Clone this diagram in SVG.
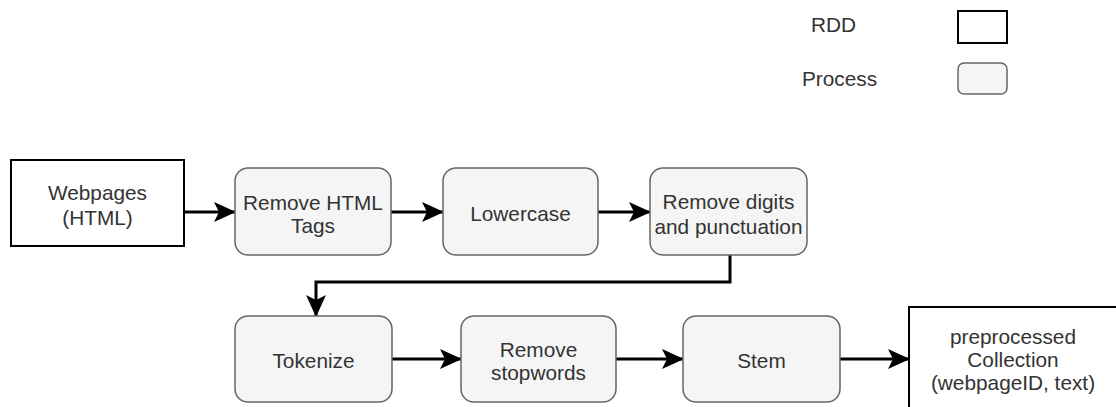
<svg xmlns="http://www.w3.org/2000/svg" width="1116" height="407" viewBox="0 0 1116 407">
  <style>
    .rdd { fill: #ffffff; stroke: #000000; stroke-width: 2; }
    .proc { fill: #f5f5f5; stroke: #666666; stroke-width: 1.5; }
    .lbl { font-family: "Liberation Sans", Arial, sans-serif; font-size: 20.8px; fill: #333333; text-anchor: middle; }
    .leg { font-family: "Liberation Sans", Arial, sans-serif; font-size: 20.8px; fill: #333333; }
    .edge { fill: none; stroke: #000000; stroke-width: 3; marker-end: url(#arrow); }
  </style>
  <defs>
    <marker id="arrow" markerUnits="userSpaceOnUse" markerWidth="22" markerHeight="20" refX="21" refY="10" orient="auto" viewBox="0 0 22 20">
      <path d="M0,0 L22,10 L0,20 L5,10 Z" fill="#000000"/>
    </marker>
  </defs>
  <rect width="1116" height="407" fill="#ffffff"/>

  <!-- legend -->
  <g id="legend">
    <text class="leg" x="811" y="32">RDD</text>
    <rect class="rdd" x="958" y="11" width="49" height="32"/>
    <text class="leg" x="802" y="86">Process</text>
    <rect class="proc" x="958" y="63" width="49" height="31" rx="6"/>
  </g>

  <!-- connectors -->
  <g id="connectors">
    <path class="edge" d="M184,212 H235"/>
    <path class="edge" d="M391,212 H443"/>
    <path class="edge" d="M598,212 H650"/>
    <path class="edge" d="M730,255 V282 H316 V316"/>
    <path class="edge" d="M392,359 H461"/>
    <path class="edge" d="M616,359 H683"/>
    <path class="edge" d="M840,359 H909"/>
  </g>

  <g id="webpages">
    <rect class="rdd" x="11" y="160" width="173" height="86"/>
    <text class="lbl" x="97.5" y="200">Webpages</text>
    <text class="lbl" x="97.5" y="225">(HTML)</text>
  </g>

  <g id="remove-html">
    <rect class="proc" x="235" y="168" width="156" height="87" rx="13"/>
    <text class="lbl" x="313" y="210">Remove HTML</text>
    <text class="lbl" x="313" y="233">Tags</text>
  </g>

  <g id="lowercase">
    <rect class="proc" x="443" y="168" width="155" height="87" rx="13"/>
    <text class="lbl" x="520.5" y="221">Lowercase</text>
  </g>

  <g id="remove-digits">
    <rect class="proc" x="650" y="168" width="157" height="87" rx="13"/>
    <text class="lbl" x="728.5" y="209">Remove digits</text>
    <text class="lbl" x="728.5" y="234">and punctuation</text>
  </g>

  <g id="tokenize">
    <rect class="proc" x="235" y="316" width="157" height="86" rx="13"/>
    <text class="lbl" x="313.5" y="368">Tokenize</text>
  </g>

  <g id="remove-stopwords">
    <rect class="proc" x="461" y="316" width="155" height="86" rx="13"/>
    <text class="lbl" x="538.5" y="357">Remove</text>
    <text class="lbl" x="538.5" y="380">stopwords</text>
  </g>

  <g id="stem">
    <rect class="proc" x="683" y="316" width="157" height="86" rx="13"/>
    <text class="lbl" x="761.5" y="368">Stem</text>
  </g>

  <g id="collection">
    <rect class="rdd" x="909" y="307" width="208" height="106"/>
    <text class="lbl" x="1013" y="344">preprocessed</text>
    <text class="lbl" x="1013" y="367">Collection</text>
    <text class="lbl" x="1013" y="390">(webpageID, text)</text>
  </g>
</svg>
